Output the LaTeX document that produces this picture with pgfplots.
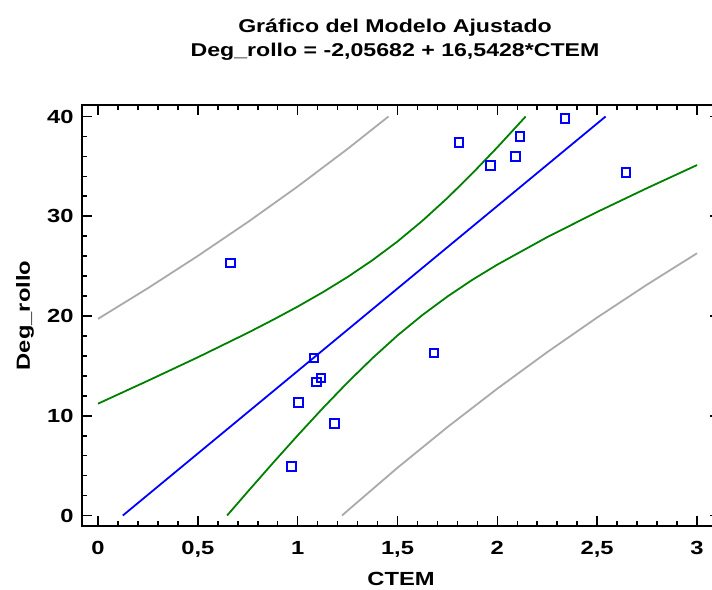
\documentclass[border=0pt]{standalone}
\usepackage{fontspec}
\setmainfont{Liberation Sans}[FakeStretch=1.25]
\usepackage{pgfplots}
\pgfplotsset{compat=1.18}
\definecolor{fitblue}{RGB}{0,0,255}
\definecolor{cgreen}{RGB}{0,128,0}
\definecolor{pgray}{RGB}{170,170,170}
\begin{document}
\begin{tikzpicture}
\useasboundingbox (0,0) rectangle (712pt,589pt);
\begin{axis}[
  at={(82pt,63pt)}, anchor=south west,
  scale only axis, width=638pt, height=421pt,
  xmin=-0.08, xmax=3.115, ymin=-1.05, ymax=41.15,
  axis line style={line width=2.4pt},
  xtick={0,0.5,1,1.5,2,2.5,3},
  xticklabels={0,{0,5},1,{1,5},2,{2,5},3},
  ytick={0,10,20,30,40},
  minor x tick num=4, minor y tick num=4,
  tick style={line width=1.6pt, black},
  major tick length=10pt, minor tick length=5pt,
  tick align=inside,
  /pgf/number format/assume math mode=true,
  tick label style={font=\fontsize{19}{21}\selectfont\bfseries},
  xticklabel style={anchor=base, yshift=-28pt},
  yticklabel style={anchor=east, xshift=-5pt},
  xlabel={CTEM},
  xlabel style={at={([yshift=-59pt]axis description cs:0.5,0)}, anchor=base, font=\fontsize{19}{21}\selectfont\bfseries},
  ylabel={Deg\_rollo},
  ylabel style={at={([xshift=-52pt]axis description cs:0,0.5)}, anchor=base, font=\fontsize{19}{21}\selectfont\bfseries},
]
% prediction limits (gray)
\addplot[pgray, line width=1.8pt] coordinates {
  (0,19.71) (0.25,22.79) (0.5,26.02) (0.75,29.41) (1.0,32.98) (1.25,36.75) (1.455,40)
};
\addplot[pgray, line width=1.8pt] coordinates {
  (1.222,0) (1.25,0.49) (1.5,4.79) (1.75,8.86) (2.0,12.72) (2.25,16.38) (2.5,19.85) (2.75,23.15) (3.0,26.29)
};
% confidence limits (green)
\addplot[cgreen, line width=1.8pt] coordinates {
  (0,11.21) (0.25,13.51) (0.5,15.86) (0.75,18.31) (0.875,19.60) (1.0,20.94) (1.125,22.37) (1.25,23.91) (1.375,25.60) (1.5,27.47) (1.625,29.55) (1.75,31.83) (1.875,34.30) (2.0,36.91) (2.142,40)
};
\addplot[cgreen, line width=1.8pt] coordinates {
  (0.6465,0) (0.75,2.39) (0.875,5.24) (1.0,8.03) (1.125,10.74) (1.25,13.34) (1.375,15.78) (1.5,18.05) (1.625,20.10) (1.75,21.95) (1.875,23.63) (2.0,25.15) (2.25,27.91) (2.5,30.43) (2.75,32.82) (3.0,35.13)
};
% fitted line
\addplot[fitblue, line width=1.8pt] coordinates {(0.1243,0) (2.5423,40)};
% observations
\addplot[only marks, mark=square, mark size=4.3pt, mark options={line width=2pt, draw=fitblue, fill=none}] coordinates {
  (0.664,25.3) (0.970,4.9) (1.003,11.3) (1.082,15.8) (1.093,13.4) (1.117,13.8) (1.183,9.2)
  (1.683,16.3) (1.808,37.4) (1.966,35.1) (2.090,36.0) (2.113,38.0) (2.338,39.8) (2.644,34.4)
};
\end{axis}
\node[anchor=base, font=\fontsize{18.5}{21}\selectfont\bfseries] at (395pt,556pt) {Gráfico del Modelo Ajustado};
\node[anchor=base, font=\fontsize{18.5}{21}\selectfont\bfseries] at (395pt,532pt) {Deg\_rollo = -2,05682 + 16,5428*CTEM};
\end{tikzpicture}
\end{document}
